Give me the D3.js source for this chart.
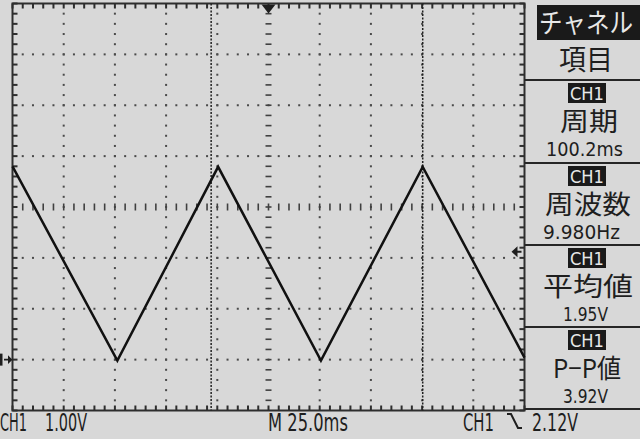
<!DOCTYPE html>
<html lang="ja">
<head>
<meta charset="UTF-8">
<title>オシロスコープ 三角波</title>
<script src="https://d3js.org/d3.v7.min.js"></script>
<style>
  body { margin: 0; background: #d8d8d8; }
  svg { display: block; }
  .num { font-family: "DejaVu Sans", sans-serif; fill: #1e1e1e; }
  .jp { font-family: "Noto Sans CJK JP", sans-serif; fill: #1e1e1e; }
</style>
</head>
<body>
<svg width="640" height="439"></svg>
<script>
// trace vertices (ms, V)
const timeMs = [-125, -73.8, -24.6, 25.6, 75.3, 125];
const volts = [3.80, -0.02, 3.79, -0.02, 3.79, 0.04];
const cursorMs = [-28, 75.3];
const triggerLevel = 2.12;
const measureNames = ["周期", "周波数", "平均値", "P−P値"];
const measureValues = ["100.2ms", "9.980Hz", "1.95V", "3.92V"];
const bottomLabels = ["CH1", "1.00V", "M 25.0ms", "CH1", "2.12V"];

const svg = d3.select("svg");
const ink = "#1e1e1e";

// 10 div x 25ms, 8 div x 1V (ground 1 div above bottom)
const x = d3.scaleLinear().domain([-125, 125]).range([12.5, 524.5]);
const y = d3.scaleLinear().domain([-1, 7]).range([410.5, 3.5]);

const minorX = d3.range(-125, 125.01, 5);
const minorY = d3.range(-1, 7.01, 0.2).map(v => Math.round(v * 10) / 10);
const majorX = d3.range(-100, 100.01, 25).filter(t => t !== 0);
const majorY = d3.range(0, 6.01, 1).filter(v => v !== 3);

const grid = svg.append("g").attr("fill", "#4a4a4a");

// dotted horizontal grid
majorY.forEach(v => {
  grid.selectAll(null).data(minorX.slice(1, -1)).enter().append("rect")
    .attr("x", d => x(d) - 1).attr("y", y(v) - 1)
    .attr("width", 2).attr("height", 2);
});
// dotted vertical grid
majorX.forEach(t => {
  grid.selectAll(null).data(minorY.slice(1, -1)).enter().append("rect")
    .attr("x", x(t) - 1).attr("y", d => y(d) - 1)
    .attr("width", 2).attr("height", 2);
});

// centre axes with dashes
const centre = svg.append("g").attr("stroke", "#404040").attr("stroke-width", 1.6);
centre.selectAll(null).data(minorY.slice(1, -1)).enter().append("line")
  .attr("x1", x(0) - 3).attr("x2", x(0) + 3)
  .attr("y1", d => y(d)).attr("y2", d => y(d));
centre.selectAll(null).data(minorX.slice(1, -1)).enter().append("line")
  .attr("x1", d => x(d)).attr("x2", d => x(d))
  .attr("y1", y(3) - 3.5).attr("y2", y(3) + 3.5);

// border with ticks
const border = svg.append("g").attr("stroke", "#2e2e2e").attr("stroke-width", 2);
border.append("rect")
  .attr("x", x(-125)).attr("y", y(7))
  .attr("width", x(125) - x(-125)).attr("height", y(-1) - y(7))
  .attr("fill", "none");
border.selectAll(null).data(minorX).enter().append("line")
  .attr("x1", d => x(d)).attr("x2", d => x(d))
  .attr("y1", y(7)).attr("y2", y(7) + 5);
border.selectAll(null).data(minorX).enter().append("line")
  .attr("x1", d => x(d)).attr("x2", d => x(d))
  .attr("y1", y(-1)).attr("y2", y(-1) - 5);
border.selectAll(null).data(minorY).enter().append("line")
  .attr("x1", x(-125)).attr("x2", x(-125) + 5)
  .attr("y1", d => y(d)).attr("y2", d => y(d));
border.selectAll(null).data(minorY).enter().append("line")
  .attr("x1", x(125)).attr("x2", x(125) - 5)
  .attr("y1", d => y(d)).attr("y2", d => y(d));

// period cursors
svg.append("g").selectAll("line").data(cursorMs).enter().append("line")
  .attr("x1", d => x(d)).attr("x2", d => x(d))
  .attr("y1", y(7)).attr("y2", y(-1))
  .attr("stroke", "#202020").attr("stroke-width", 1.5)
  .attr("stroke-dasharray", "2,1.5");

// trace
const pts = timeMs.map((t, i) => [t, volts[i]]);
svg.append("path")
  .datum(pts)
  .attr("d", d3.line().x(d => x(d[0])).y(d => y(d[1])))
  .attr("fill", "none").attr("stroke", "#111").attr("stroke-width", 2.5)
  .attr("stroke-linejoin", "miter");

// trigger position marker (top)
svg.append("path")
  .attr("d", `M${x(0) - 7},${y(7) + 1}L${x(0) + 7},${y(7) + 1}L${x(0)},${y(7) + 10}Z`)
  .attr("fill", ink);

// ground marker (left)
svg.append("rect").attr("x", 0).attr("y", y(0) - 6).attr("width", 2.5).attr("height", 12).attr("fill", ink);
svg.append("path")
  .attr("d", `M4,${y(0) - 0.8}h4v-3.5l4.5,4.3l-4.5,4.3v-3.5h-4z`)
  .attr("fill", ink);

// trigger level marker (right)
const ty = y(triggerLevel);
svg.append("path")
  .attr("d", `M${x(125) - 13},${ty}l6,-5.5v4.5h4v2h-4v4.5z`)
  .attr("fill", ink);

// helper for squeezed screen text
function label(str, x0, base, size, len, cls, fill) {
  return svg.append("text").attr("class", cls)
    .attr("x", x0).attr("y", base)
    .attr("font-size", size)
    .attr("textLength", len).attr("lengthAdjust", "spacingAndGlyphs")
    .style("fill", fill || ink)
    .text(str);
}

// right side panel
const panelX = x(125);
const sepY = [80, 163, 245, 327, 409];
svg.append("g").selectAll("line").data(sepY).enter().append("line")
  .attr("x1", panelX).attr("x2", 640)
  .attr("y1", d => d).attr("y2", d => d)
  .attr("stroke", "#262626").attr("stroke-width", 2);

svg.append("rect").attr("x", 537).attr("y", 5).attr("width", 103).attr("height", 35).attr("fill", "#1a1a1a");
label("チャネル", 539, 33, 27, 94, "jp", "#e8e8e8");
label("項目", 559, 70, 28, 54, "jp");

const nameLen = [58, 86, 90, 68];
const nameX = [560, 545, 543, 553];
const valueLen = [77, 77, 45, 45];
const valueX = [546, 543, 563, 563];
measureNames.forEach((nm, i) => {
  const top = sepY[i];
  svg.append("rect").attr("x", 568).attr("y", top + 3).attr("width", 38).attr("height", 20).attr("fill", "#1a1a1a");
  label("CH1", 570, top + 20, 17, 34, "num", "#e8e8e8");
  label(nm, nameX[i], top + 51, 26, nameLen[i], "jp");
  label(measureValues[i], valueX[i], top + 76, 19, valueLen[i], "num");
});

// bottom status line
label(bottomLabels[0], 0, 431, 24, 27, "num");
label(bottomLabels[1], 45, 431, 24, 42, "num");
label(bottomLabels[2], 268, 431, 24, 80, "num");
label(bottomLabels[3], 463, 431, 24, 31, "num");
label(bottomLabels[4], 532, 431, 24, 46, "num");
// falling-edge slope symbol
svg.append("path")
  .attr("d", "M507,414h4l7,14h4")
  .attr("fill", "none").attr("stroke", ink).attr("stroke-width", 2);
</script>
</body>
</html>
